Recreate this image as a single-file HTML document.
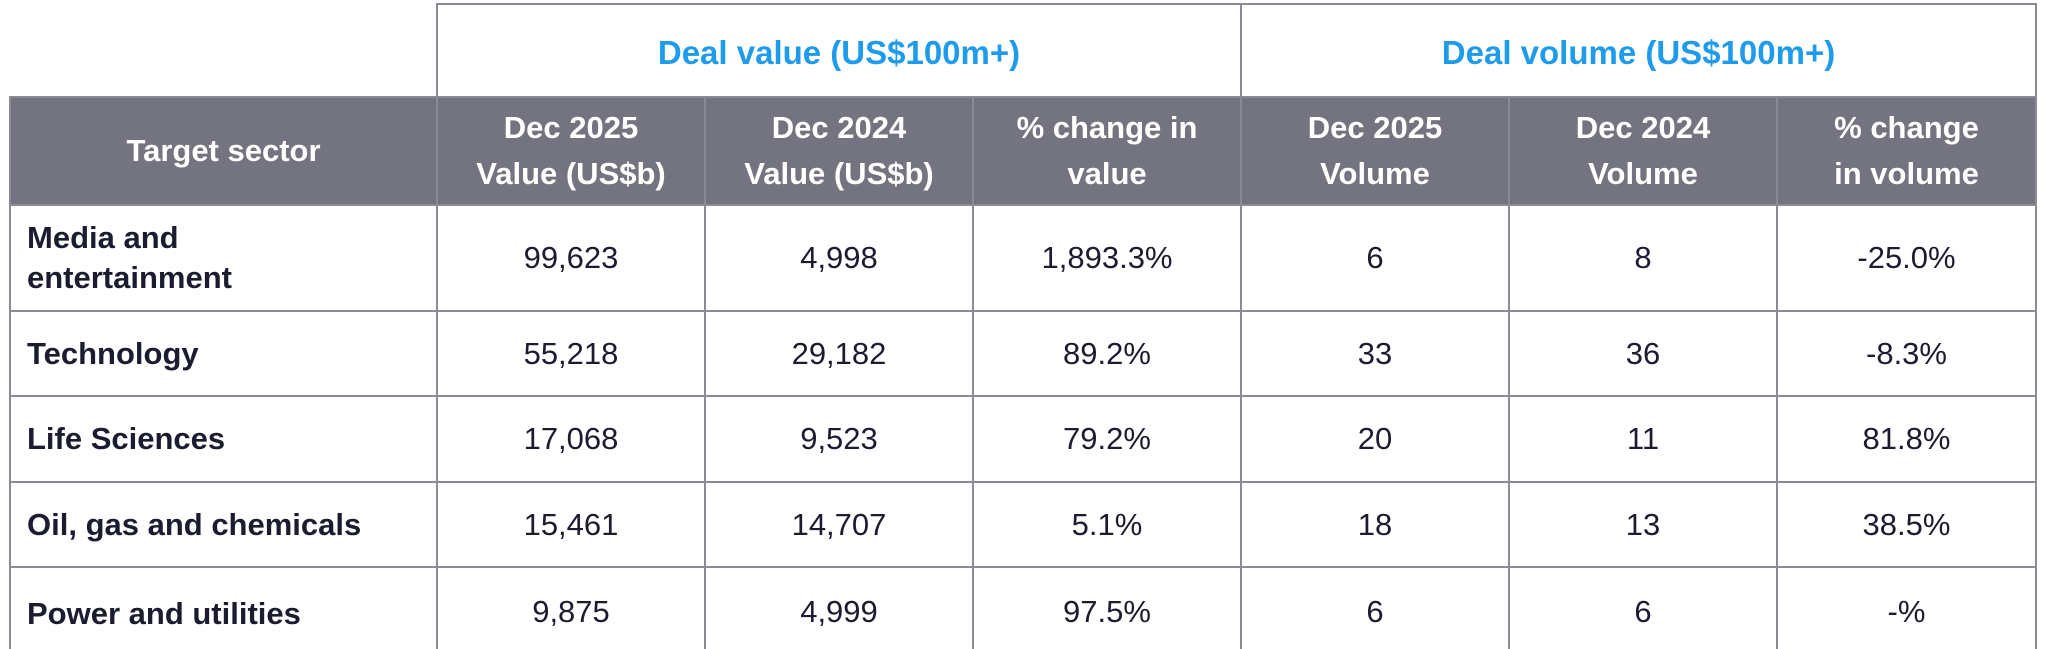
<!DOCTYPE html>
<html style="margin:0;width:2048px;height:649px;overflow:hidden;"><head><style>
body{margin:0;width:2048px;height:649px;overflow:hidden;background:#fff;font-family:"Liberation Sans",sans-serif;}
#w{position:relative;width:2048px;height:649px;overflow:hidden;}
table{position:absolute;left:9px;top:3px;border-collapse:collapse;table-layout:fixed;}
td{border:2px solid #8b8b96;text-align:center;vertical-align:middle;padding:0;color:#1c1c30;font-size:31px;}
td.e{border:none;border-bottom:2px solid #8b8b96;}
.top td.h{color:#1f9bec;font-weight:bold;font-size:33px;padding-top:4px;}
.hd td{background:#747480;color:#fff;font-weight:bold;font-size:31px;line-height:46px;}
td.s{text-align:left;font-weight:bold;padding-left:16px;line-height:40px;}
.last td{vertical-align:top;padding-top:26px;border-bottom:none;}
</style></head><body>
<div id="w">
<table>
<colgroup><col style="width:427px"><col style="width:268px"><col style="width:268px"><col style="width:268px"><col style="width:268px"><col style="width:268px"><col style="width:259px"></colgroup>
<tr class="top" style="height:93px"><td class="e"></td><td class="h" colspan="3">Deal value (US$100m+)</td><td class="h" colspan="3">Deal volume (US$100m+)</td></tr>
<tr class="hd" style="height:108px"><td>Target sector</td><td>Dec 2025<br>Value (US$b)</td><td>Dec 2024<br>Value (US$b)</td><td>% change in<br>value</td><td>Dec 2025<br>Volume</td><td>Dec 2024<br>Volume</td><td>% change<br>in volume</td></tr>
<tr style="height:106px"><td class="s">Media and<br>entertainment</td><td>99,623</td><td>4,998</td><td>1,893.3%</td><td>6</td><td>8</td><td>-25.0%</td></tr>
<tr style="height:85px"><td class="s">Technology</td><td>55,218</td><td>29,182</td><td>89.2%</td><td>33</td><td>36</td><td>-8.3%</td></tr>
<tr style="height:86px"><td class="s">Life Sciences</td><td>17,068</td><td>9,523</td><td>79.2%</td><td>20</td><td>11</td><td>81.8%</td></tr>
<tr style="height:85px"><td class="s">Oil, gas and chemicals</td><td>15,461</td><td>14,707</td><td>5.1%</td><td>18</td><td>13</td><td>38.5%</td></tr>
<tr class="last" style="height:83px"><td class="s">Power and utilities</td><td>9,875</td><td>4,999</td><td>97.5%</td><td>6</td><td>6</td><td>-%</td></tr>
</table>
</div>
</body></html>
